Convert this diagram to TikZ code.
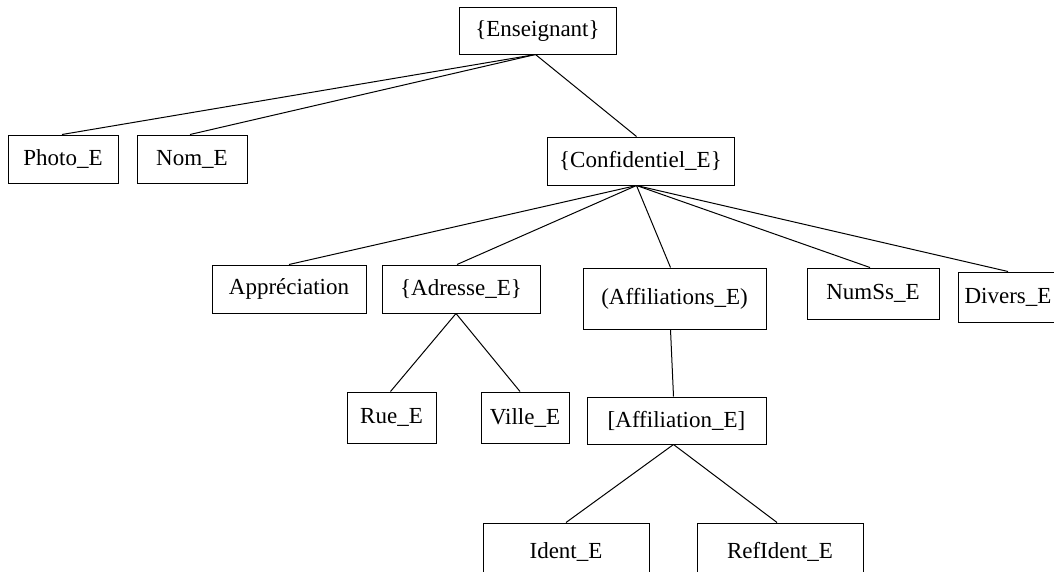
\documentclass[tikz,border=0pt]{standalone}
\usepackage{fontspec}
\setmainfont{Liberation Serif}
\begin{document}
\begin{tikzpicture}[x=1pt,y=-1pt,
  box/.style={draw, line width=1pt, inner sep=0pt, anchor=center, font=\fontsize{23}{27}\selectfont},
  link/.style={line width=1pt}]
\useasboundingbox (0,0) rectangle (1054,571);
\clip (0,0) rectangle (1054,571);
\node[box, minimum width=157pt, minimum height=47pt] (ens) at (537.5,30.5) {\{Enseignant\}};
\node[box, minimum width=110pt, minimum height=48pt] (photo) at (63,159) {Photo\_E};
\node[box, minimum width=110pt, minimum height=48pt] (nom) at (192,159) {Nom\_E};
\node[box, minimum width=187pt, minimum height=48pt] (conf) at (640.5,161) {\{Confidentiel\_E\}};
\node[box, minimum width=154pt, minimum height=48pt] (appr) at (289,289) {Appréciation};
\node[box, minimum width=158pt, minimum height=48pt] (adr) at (461,289) {\{Adresse\_E\}};
\node[box, minimum width=183pt, minimum height=61pt] (affs) at (674.5,298.5) {(Affiliations\_E)};
\node[box, minimum width=132pt, minimum height=51pt] (num) at (873,293.5) {NumSs\_E};
\node[box, minimum width=100pt, minimum height=50pt] (div) at (1008,297) {Divers\_E};
\node[box, minimum width=89pt, minimum height=51pt] (rue) at (391.5,417.5) {Rue\_E};
\node[box, minimum width=88pt, minimum height=51pt] (ville) at (525,417.5) {Ville\_E};
\node[box, minimum width=179pt, minimum height=47pt] (aff) at (676.5,420.5) {[Affiliation\_E]};
\node[box, minimum width=166pt, minimum height=58pt] (ident) at (566,552) {Ident\_E};
\node[box, minimum width=166pt, minimum height=58pt] (ref) at (780,552) {RefIdent\_E};
\draw[link] ([xshift=-2pt]ens.south) -- ([xshift=-1pt]photo.north);
\draw[link] ([xshift=-2pt]ens.south) -- ([xshift=-2pt]nom.north);
\draw[link] ([xshift=-2pt]ens.south) -- ([xshift=-4pt]conf.north);
\draw[link] ([xshift=-4pt]conf.south) -- (appr.north);
\draw[link] ([xshift=-4pt]conf.south) -- ([xshift=-4pt]adr.north);
\draw[link] ([xshift=-4pt]conf.south) -- ([xshift=-4pt]affs.north);
\draw[link] ([xshift=-4pt]conf.south) -- ([xshift=-3pt]num.north);
\draw[link] ([xshift=-4pt]conf.south) -- (div.north);
\draw[link] ([xshift=-5pt]adr.south) -- ([xshift=-1pt]rue.north);
\draw[link] ([xshift=-5pt]adr.south) -- ([xshift=-5pt]ville.north);
\draw[link] ([xshift=-4pt]affs.south) -- ([xshift=-3pt]aff.north);
\draw[link] ([xshift=-3pt]aff.south) -- (ident.north);
\draw[link] ([xshift=-3pt]aff.south) -- ([xshift=-3pt]ref.north);
\end{tikzpicture}
\end{document}
